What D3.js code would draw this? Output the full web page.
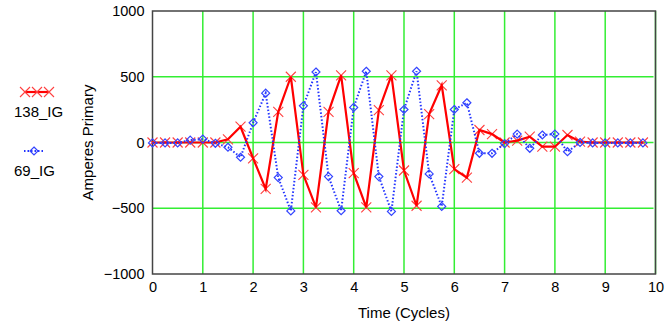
<!DOCTYPE html>
<html>
<head>
<meta charset="utf-8">
<script src="https://cdn.jsdelivr.net/npm/d3@7"></script>
<style>
  body { margin: 0; background: #fff; }
  text { font-family: "Liberation Sans", Arial, sans-serif; fill: #000; }
</style>
</head>
<body>
<svg id="chart" width="670" height="326"></svg>
<script>
// time in cycles, 4 samples per cycle
const times = d3.range(40).map(i => i * 0.25);

const ig138 = [0, 0, 0, 0, 0, 0, 24, 120, -120, -353,
  233, 500, -246, -494, 233, 511, -233, -494, 246, 511,
  -213, -481, 216, 435, -203, -267, 95, 64, 0, 14,
  44, -32, -32, 57, 6, 0, 0, 0, 0, 0];
const ig69 = [-3, -3, -3, 18, 26, -6, -36, -112, 150, 375,
  -267, -520, 279, 536, -259, -519, 267, 542, -259, -524,
  251, 542, -239, -486, 251, 302, -82, -82, -8, 64,
  -44, 57, 64, -70, 0, -3, -3, -3, -3, -3];

const xTicks = d3.range(0, 11);
const yTicks = [-1000, -500, 0, 500, 1000];
const seriesNames = ["138_IG", "69_IG"];

const svg = d3.select("#chart");
const x = d3.scaleLinear().domain([0, 10]).range([152.5, 655.5]);
const y = d3.scaleLinear().domain([-1000, 1000]).range([274, 11]);

// grid
const grid = svg.append("g").attr("class", "grid");
grid.selectAll(".vgrid")
  .data(xTicks.filter(d => d > 0))
  .enter().append("line")
  .attr("x1", d => x(d)).attr("x2", d => x(d))
  .attr("y1", y(1000)).attr("y2", y(-1000))
  .attr("stroke", "#33ee33").attr("stroke-width", 1.5);
grid.selectAll(".hgrid")
  .data(yTicks.filter(d => d > -1000 && d < 1000))
  .enter().append("line")
  .attr("x1", x(0)).attr("x2", x(10) - 2)
  .attr("y1", d => y(d)).attr("y2", d => y(d))
  .attr("stroke", "#33ee33").attr("stroke-width", 1.5);

// frame
svg.append("rect")
  .attr("x", x(0)).attr("y", y(1000))
  .attr("width", x(10) - x(0)).attr("height", y(-1000) - y(1000))
  .attr("fill", "none").attr("stroke", "#444").attr("stroke-width", 1.5);

// axes
const yAxis = svg.append("g")
  .attr("transform", `translate(${x(0)},0)`)
  .call(d3.axisLeft(y).tickValues(yTicks).tickFormat(d3.format("d")).tickSize(0).tickPadding(8));
yAxis.select(".domain").remove();
yAxis.selectAll("text").style("font-size", "14.5px").style("font-family", "Liberation Sans, Arial, sans-serif");

const xAxis = svg.append("g")
  .attr("transform", `translate(0,${y(-1000)})`)
  .call(d3.axisBottom(x).tickValues(xTicks).tickSize(0).tickPadding(8));
xAxis.select(".domain").remove();
xAxis.selectAll("text").style("font-size", "14.5px").style("font-family", "Liberation Sans, Arial, sans-serif");

svg.append("text")
  .attr("transform", `translate(93,${y(0)}) rotate(-90)`)
  .attr("text-anchor", "middle")
  .style("font-size", "15px")
  .text("Amperes Primary");

svg.append("text")
  .attr("x", (x(0) + x(10)) / 2).attr("y", 318)
  .attr("text-anchor", "middle")
  .style("font-size", "15px")
  .text("Time (Cycles)");

// series
const redData = times.map((t, i) => ({ t, v: ig138[i] }));
const blueData = times.map((t, i) => ({ t, v: ig69[i] }));

const line = d3.line().x(d => x(d.t)).y(d => y(d.v));

const drawX = (g, cx, cy) => {
  const s = 5;
  g.append("path")
    .attr("d", `M${cx - s},${cy - s}L${cx + s},${cy + s}M${cx - s},${cy + s}L${cx + s},${cy - s}`)
    .attr("stroke", "#ff4040").attr("stroke-width", 1.1).attr("fill", "none");
};
const drawDiamond = (g, cx, cy) => {
  const s = 4;
  g.append("path")
    .attr("d", `M${cx},${cy - s}L${cx + s},${cy}L${cx},${cy + s}L${cx - s},${cy}Z`)
    .attr("stroke", "#3344ff").attr("stroke-width", 1.2).attr("fill", "none");
};

const redG = svg.append("g");
redData.forEach(d => drawX(redG, x(d.t), y(d.v)));
redG.append("path").datum(redData)
  .attr("d", line)
  .attr("fill", "none").attr("stroke", "#ff0000").attr("stroke-width", 2.2);

const blueG = svg.append("g");
blueG.append("path").datum(blueData)
  .attr("d", line)
  .attr("fill", "none").attr("stroke", "#2233ff").attr("stroke-width", 2)
  .attr("stroke-dasharray", "1.5,2");
blueData.forEach(d => drawDiamond(blueG, x(d.t), y(d.v)));

// legend
const leg = svg.append("g");
leg.append("line").attr("x1", 25).attr("x2", 49).attr("y1", 92).attr("y2", 92)
  .attr("stroke", "#ff0000").attr("stroke-width", 2.2);
[25, 37, 49].forEach(cx => drawX(leg, cx, 92));
leg.append("text").attr("x", 14).attr("y", 117).style("font-size", "15px").text(seriesNames[0]);

leg.append("line").attr("x1", 24).attr("x2", 44).attr("y1", 151).attr("y2", 151)
  .attr("stroke", "#2233ff").attr("stroke-width", 2).attr("stroke-dasharray", "1.5,2");
drawDiamond(leg, 34, 151);
leg.append("text").attr("x", 14).attr("y", 176).style("font-size", "15px").text(seriesNames[1]);
</script>
</body>
</html>
